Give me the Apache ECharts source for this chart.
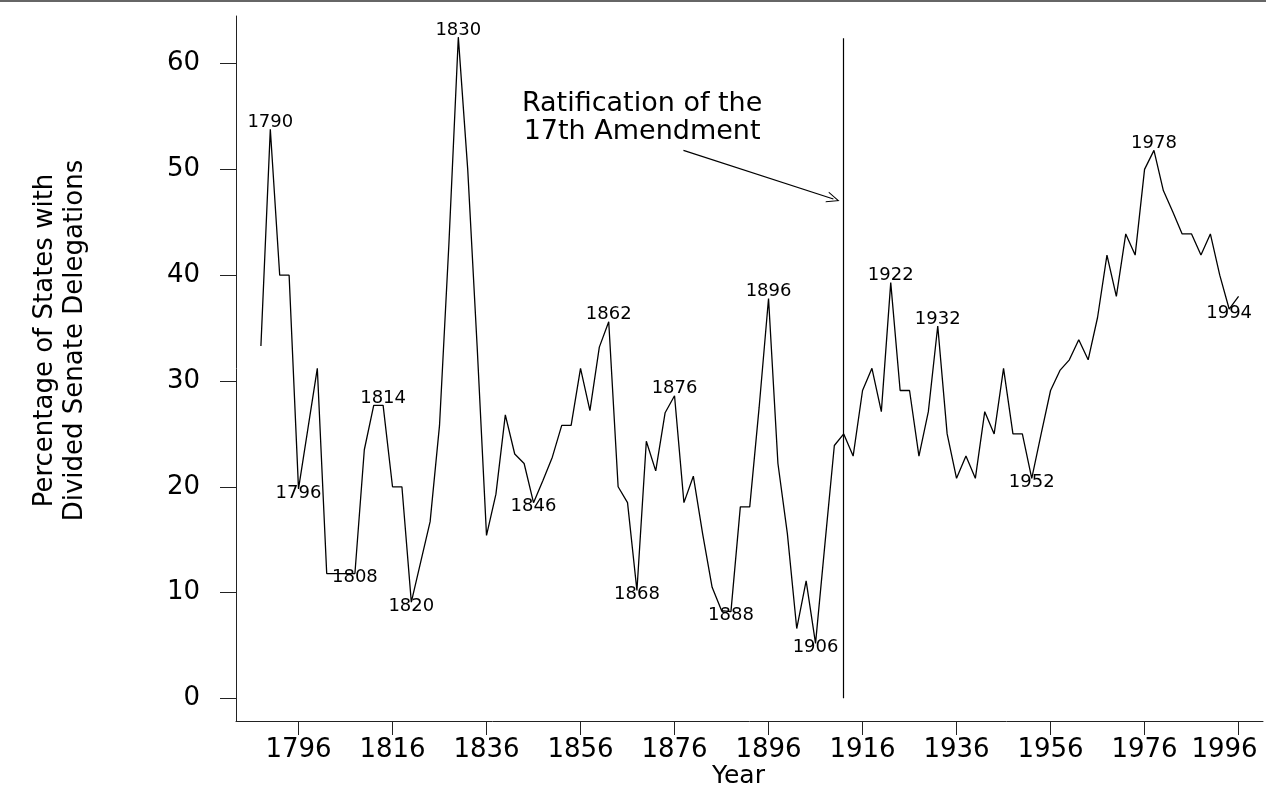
<!DOCTYPE html>
<html>
<head>
<meta charset="utf-8">
<script src="https://cdn.jsdelivr.net/npm/echarts@6/dist/echarts.min.js"></script>
<style>
html, body { margin: 0; padding: 0; background: #fff; }
#chart { width: 1266px; height: 788px; }
</style>
</head>
<body>
<div id="chart"></div>
<script>
// congress years, every two years
const years = [
  1788, 1790, 1792, 1794, 1796, 1798, 1800, 1802, 1804, 1806,
  1808, 1810, 1812, 1814, 1816, 1818, 1820, 1822, 1824, 1826,
  1828, 1830, 1832, 1834, 1836, 1838, 1840, 1842, 1844, 1846,
  1848, 1850, 1852, 1854, 1856, 1858, 1860, 1862, 1864, 1866,
  1868, 1870, 1872, 1874, 1876, 1878, 1880, 1882, 1884, 1886,
  1888, 1890, 1892, 1894, 1896, 1898, 1900, 1902, 1904, 1906,
  1908, 1910, 1912, 1914, 1916, 1918, 1920, 1922, 1924, 1926,
  1928, 1930, 1932, 1934, 1936, 1938, 1940, 1942, 1944, 1946,
  1948, 1950, 1952, 1954, 1956, 1958, 1960, 1962, 1964, 1966,
  1968, 1970, 1972, 1974, 1976, 1978, 1980, 1982, 1984, 1986,
  1988, 1990, 1992, 1994, 1996
]
// % of states with divided senate delegations
const divided = [
  33.3, 53.8, 40.0, 40.0, 19.8, 25.5, 31.2, 11.8, 11.8, 11.8,
  11.8, 23.5, 27.7, 27.7, 20.0, 20.0, 9.1, 12.9, 16.7, 25.8,
  43.0, 62.5, 50.0, 33.3, 15.4, 19.3, 26.8, 23.1, 22.2, 18.5,
  20.6, 22.8, 25.8, 25.8, 31.2, 27.2, 33.2, 35.6, 20.0, 18.5,
  10.2, 24.3, 21.5, 27.0, 28.6, 18.5, 21.0, 15.5, 10.5, 8.3,
  8.2, 18.1, 18.1, 27.5, 37.8, 22.2, 15.6, 6.6, 11.1, 5.2,
  14.6, 23.9, 25.0, 22.9, 29.1, 31.2, 27.1, 39.3, 29.1, 29.1,
  22.9, 27.1, 35.2, 25.0, 20.8, 22.9, 20.8, 27.1, 25.0, 31.2,
  25.0, 25.0, 20.8, 25.0, 29.1, 31.0, 32.0, 33.9, 32.0, 36.0,
  41.9, 38.0, 43.9, 41.9, 50.0, 51.8, 48.0, 46.0, 43.9, 43.9,
  41.9, 43.9, 40.0, 36.8, 38.0
]
const peakYears = [1790, 1814, 1830, 1862, 1876, 1896, 1922, 1932, 1978]
const troughYears = [1796, 1808, 1820, 1846, 1868, 1888, 1906, 1952, 1994]
const xTicks = [1796, 1816, 1836, 1856, 1876, 1896, 1916, 1936, 1956, 1976, 1996]
const yTicks = [0, 10, 20, 30, 40, 50, 60]
const amendmentYear = 1912
const noteText = 'Ratification of the\n17th Amendment'

const FONT = 'DejaVu Sans'
const pointOf = (y) => [y, divided[years.indexOf(y)]]

var myChart = echarts.init(document.getElementById('chart'))
const option = {
    animation: false,
    backgroundColor: '#fff',
    grid: {
        left: 236,
        right: 3,
        top: 16,
        bottom: 67,
        outerBoundsMode: 'none'
    },
    graphic: [
        {
            type: 'line',
            shape: { x1: 0, y1: 1, x2: 1266, y2: 1 },
            style: { stroke: '#333', lineWidth: 1.5 }
        }
    ],
    xAxis: {
        type: 'value',
        min: 1782.7,
        max: 2001.2,
        name: 'Year',
        nameLocation: 'middle',
        nameGap: 43,
        nameMoveOverlap: false,
        nameTextStyle: { fontFamily: FONT, fontSize: 25, color: '#000', padding: [0, 22, 0, 0] },
        axisLine: { onZero: false, lineStyle: { color: '#222', width: 1 } },
        axisTick: { show: true, length: 14, customValues: xTicks, lineStyle: { color: '#222' } },
        axisLabel: {
            customValues: xTicks,
            // the last label is pulled left to stay inside the frame
            formatter: (v) => (v === xTicks[xTicks.length - 1] ? '{last|' + v + '}' : String(v)),
            rich: {
                last: { fontFamily: FONT, fontSize: 26, color: '#000', padding: [0, 28, 0, 0] }
            },
            margin: 16,
            fontFamily: FONT,
            fontSize: 26,
            color: '#000'
        },
        splitLine: { show: false }
    },
    yAxis: {
        type: 'value',
        min: -2.14,
        max: 64.5,
        name: 'Percentage of States with\nDivided Senate Delegations',
        nameLocation: 'middle',
        nameRotate: 90,
        nameGap: 146,
        nameMoveOverlap: false,
        nameTextStyle: {
            fontFamily: FONT,
            fontSize: 26,
            lineHeight: 30,
            color: '#000',
            padding: [0, 0, 0, 56]
        },
        axisLine: { show: true, onZero: false, lineStyle: { color: '#222', width: 1 } },
        axisTick: { show: true, length: 16, customValues: yTicks, lineStyle: { color: '#222' } },
        axisLabel: {
            customValues: yTicks,
            margin: 36,
            fontFamily: FONT,
            fontSize: 26,
            color: '#000'
        },
        splitLine: { show: false }
    },
    series: [
        {
            name: 'divided',
            type: 'line',
            data: years.map((y, i) => [y, divided[i]]),
            symbol: 'none',
            lineStyle: { color: '#000', width: 1.3 },
            markLine: {
                silent: true,
                symbol: 'none',
                label: { show: false },
                lineStyle: { color: '#000', width: 1.2, type: 'solid' },
                data: [
                    [{ coord: [amendmentYear, 0] }, { coord: [amendmentYear, 62.4] }],
                    [
                        { coord: [1877.9, 51.8], symbol: 'none' },
                        {
                            coord: [1909.8, 47.2],
                            symbol: 'path://M0,12 L5,0 L10,12 L9,12 L5,2.4 L1,12 Z',
                            symbolSize: [11, 13]
                        }
                    ]
                ]
            }
        },
        {
            name: 'peaks',
            type: 'scatter',
            data: peakYears.map(pointOf),
            symbolSize: 0,
            silent: true,
            itemStyle: { opacity: 1 },
            label: {
                show: true,
                position: 'inside',
                offset: [0, -7],
                formatter: (p) => p.value[0],
                fontFamily: FONT,
                fontSize: 18,
                color: '#000'
            }
        },
        {
            name: 'troughs',
            type: 'scatter',
            data: troughYears.map(pointOf),
            symbolSize: 0,
            silent: true,
            itemStyle: { opacity: 1 },
            label: {
                show: true,
                position: 'inside',
                offset: [0, 4],
                formatter: (p) => p.value[0],
                fontFamily: FONT,
                fontSize: 18,
                color: '#000'
            }
        },
        {
            name: 'note',
            type: 'scatter',
            data: [[1869.1, 54.85]],
            symbolSize: 0,
            silent: true,
            itemStyle: { opacity: 1 },
            label: {
                show: true,
                position: 'inside',
                formatter: noteText,
                fontFamily: FONT,
                fontSize: 27,
                lineHeight: 28,
                color: '#000'
            }
        }
    ]
}
myChart.setOption(option)
</script>
</body>
</html>
